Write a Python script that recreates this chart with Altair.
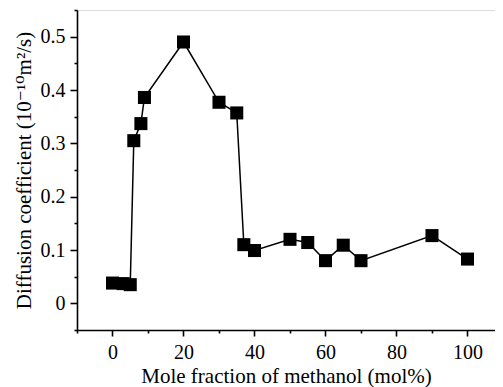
import altair as alt
import pandas as pd

mole_fraction = [0, 3, 5, 6, 8, 9, 20, 30, 35, 37, 40, 50, 55, 60, 65, 70, 90, 100]
diffusion = [0.038, 0.037, 0.035, 0.305, 0.337, 0.386, 0.490, 0.377, 0.357,
             0.110, 0.099, 0.120, 0.114, 0.080, 0.109, 0.080, 0.127, 0.083]

x_ticks = [-10, 0, 10, 20, 30, 40, 50, 60, 70, 80, 90, 100]
y_ticks = [-0.05, 0, 0.05, 0.1, 0.15, 0.2, 0.25, 0.3, 0.35, 0.4, 0.45, 0.5, 0.55]

df = pd.DataFrame({"x": mole_fraction, "y": diffusion})

FONT = "Liberation Serif"

x_enc = alt.X(
    "x:Q",
    scale=alt.Scale(domain=[-10, 107.75], nice=False, zero=False),
    axis=alt.Axis(
        title="Mole fraction of methanol (mol%)",
        values=x_ticks,
        labelExpr="(datum.value % 20 === 0) ? format(datum.value, 'd') : ''",
        tickSize={"condition": {"test": "datum.value % 20 === 0", "value": 6}, "value": 3},
        labelPadding=6,
        titlePadding=3,
        titleFontSize=21,
    ),
)
y_enc = alt.Y(
    "y:Q",
    scale=alt.Scale(domain=[-0.05, 0.55], nice=False, zero=False),
    axis=alt.Axis(
        title="Diffusion coefficient (10⁻¹⁰m²/s)",
        values=y_ticks,
        labelExpr="(abs(round(datum.value*100)) % 10 === 0) ? format(datum.value, '~g') : ''",
        tickSize={"condition": {"test": "abs(round(datum.value*100)) % 10 === 0", "value": 7}, "value": 3},
        labelPadding=5,
        titlePadding=6,
        titleFont="Liberation Serif, DejaVu Serif, serif",
        titleFontSize=21,
    ),
)

line = alt.Chart(df).mark_line(color="black", strokeWidth=1.5).encode(x=x_enc, y=y_enc)
pts = alt.Chart(df).mark_point(shape="square", filled=True, color="black", size=170, opacity=1).encode(x=x_enc, y=y_enc)

chart = (line + pts).properties(
    width=418, height=320,
    autosize=alt.AutoSizeParams(type="none"),
    padding={"left": 69, "top": 2, "right": 0, "bottom": 57},
).configure_view(stroke=None).configure(background="white", font=FONT).configure_axis(
    grid=False,
    domainColor="black", domainWidth=1.6,
    tickColor="black", tickWidth=1.6,
    labelFont=FONT, labelFontSize=20, labelColor="black",
    titleFont=FONT, titleFontSize=20, titleFontWeight="normal", titleColor="black",
)

chart.save("out.html", embed_options={"renderer": "svg", "actions": False})
